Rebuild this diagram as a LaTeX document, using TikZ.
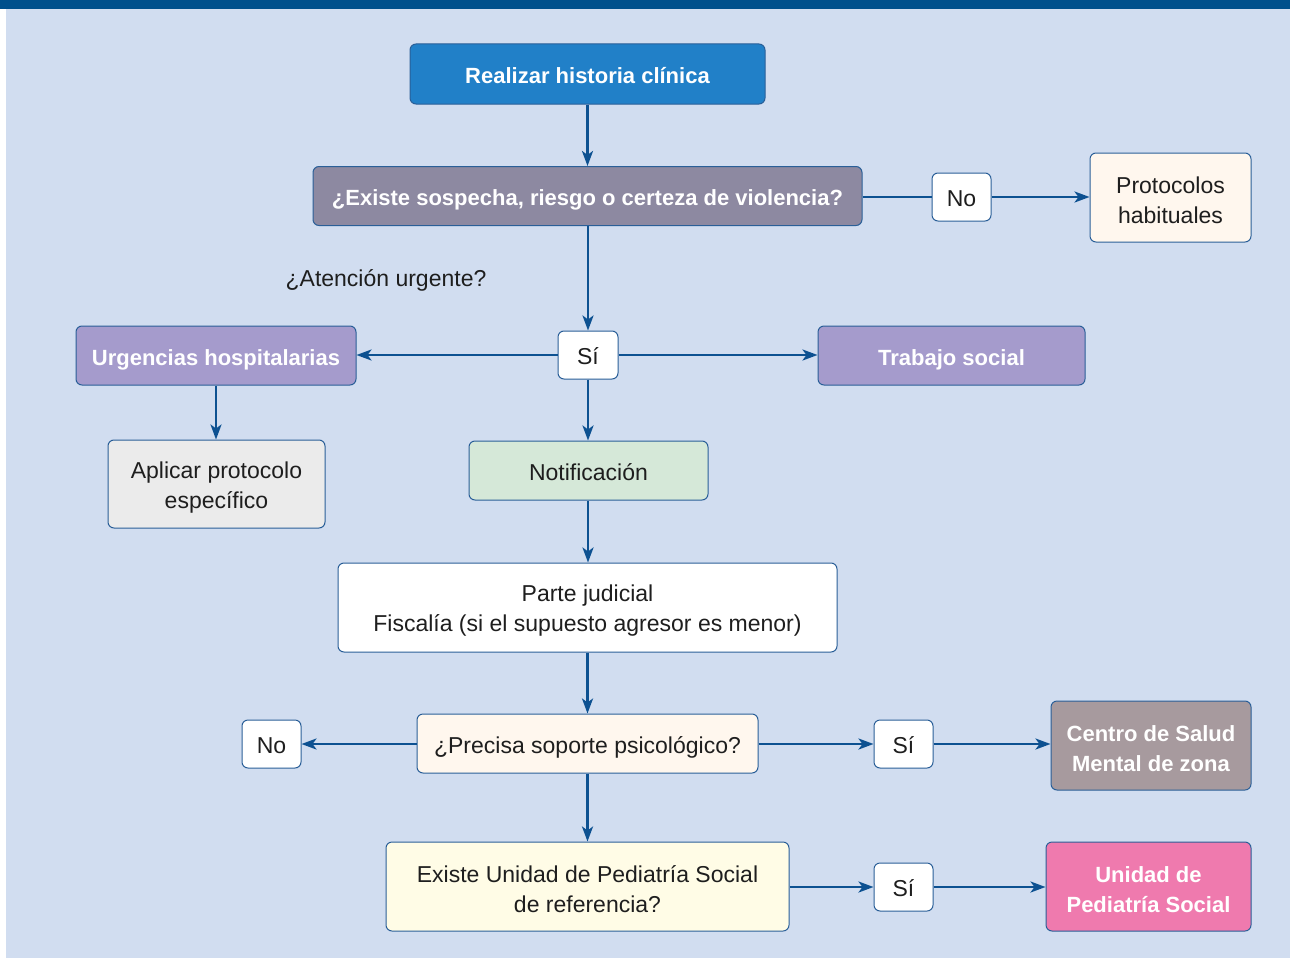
\documentclass[tikz,border=0pt]{standalone}
\usepackage{fontspec}
\setmainfont{Liberation Sans}
\usetikzlibrary{arrows.meta}
\definecolor{bar}{HTML}{00508C}
\definecolor{bg}{HTML}{D1DDF0}
\definecolor{edge}{HTML}{2A5F98}
\definecolor{arrowc}{HTML}{0D5191}
\definecolor{txt}{HTML}{1E1E1E}
\definecolor{fblue}{HTML}{2180C8}
\definecolor{fgray}{HTML}{8D89A1}
\definecolor{flav}{HTML}{A59BCC}
\definecolor{fcream}{HTML}{FFF7EE}
\definecolor{flgray}{HTML}{EBEBEB}
\definecolor{fgreen}{HTML}{D5E8D8}
\definecolor{fmauve}{HTML}{A79A9E}
\definecolor{fyellow}{HTML}{FFFCE6}
\definecolor{fpink}{HTML}{EF7AAE}
\begin{document}
\begin{tikzpicture}[x=1pt,y=-1pt,
  box/.style={draw=edge, line width=1pt, rounded corners=6pt, inner sep=0pt,
    align=center, text=txt, font=\fontsize{23}{30}\selectfont},
  one/.style={execute at begin node={\rule[-8pt]{0pt}{35pt}},
    execute at end node={\rule[-8pt]{0pt}{8pt}}},
  two/.style={execute at begin node={\rule{0pt}{53pt}}},
  boldbox/.style={box, text=white, font=\fontsize{22}{30}\selectfont\bfseries},
  smallbox/.style={box, one, fill=white, minimum width=59pt, minimum height=48pt},
  arr/.style={draw=arrowc, line width=2.5pt, -{Stealth[length=15pt,width=11pt,inset=4pt]}},
  plain/.style={draw=arrowc, line width=2.5pt}]
\useasboundingbox (0,0) rectangle (1290,958);
\fill[white] (0,0) rectangle (1290,958);
\fill[bg] (6,9) rectangle (1290,958);
\fill[bar] (0,0) rectangle (1290,9);

\node[boldbox, one, fill=fblue, minimum width=355pt, minimum height=60pt] (real) at (587.5,74) {Realizar historia clínica};
\node[boldbox, one, fill=fgray, minimum width=549pt, minimum height=59pt] (exist) at (587.5,196) {¿Existe sospecha, riesgo o certeza de violencia?};
\node[smallbox] (no1) at (961.5,197) {No};
\node[box, two, fill=fcream, minimum width=161pt, minimum height=89pt] (prot) at (1170.5,197.5) {Protocolos\\habituales};
\node[text=txt, font=\fontsize{23}{30}\selectfont, inner sep=0pt, anchor=base] (aten) at (386,286) {¿Atención urgente?};
\node[smallbox, minimum width=60pt] (si1) at (588,355) {Sí};
\node[boldbox, one, fill=flav, minimum width=280pt, minimum height=59pt] (urg) at (216,355.5) {Urgencias hospitalarias};
\node[boldbox, one, fill=flav, minimum width=267pt, minimum height=59pt] (trab) at (951.5,355.5) {Trabajo social};
\node[box, two, fill=flgray, minimum width=217pt, minimum height=88pt] (apl) at (216.5,484) {Aplicar protocolo\\específico};
\node[box, one, fill=fgreen, minimum width=239pt, minimum height=59pt] (notif) at (588.5,470.5) {Notificación};
\node[box, two, fill=white, minimum width=499pt, minimum height=89pt] (parte) at (587.5,607.5) {Parte judicial\\Fiscalía (si el supuesto agresor es menor)};
\node[box, one, fill=fcream, minimum width=341pt, minimum height=59pt] (prec) at (587.5,743.5) {¿Precisa soporte psicológico?};
\node[smallbox] (no2) at (271.5,744) {No};
\node[smallbox] (si2) at (903.5,744) {Sí};
\node[boldbox, two, fill=fmauve, minimum width=200pt, minimum height=89pt] (centro) at (1151,745.5) {Centro de Salud\\Mental de zona};
\node[box, two, fill=fyellow, minimum width=403pt, minimum height=89pt] (exu) at (587.5,886.5) {Existe Unidad de Pediatría Social\\de referencia?};
\node[smallbox] (si3) at (903.5,887) {Sí};
\node[boldbox, two, fill=fpink, minimum width=205pt, minimum height=89pt] (unid) at (1148.5,886.5) {Unidad de\\Pediatría Social};

\draw[arr] (real.south) -- (exist.north);
\draw[plain] (exist.east |- no1) -- (no1.west);
\draw[arr] (no1.east) -- (prot.west |- no1);
\draw[arr] (exist.south -| si1) -- (si1.north);
\draw[arr] (si1.west) -- (urg.east |- si1);
\draw[arr] (si1.east) -- (trab.west |- si1);
\draw[arr] (si1.south) -- (si1.south |- notif.north);
\draw[arr] (urg.south) -- (urg.south |- apl.north);
\draw[arr] (notif.south -| si1) -- (parte.north -| si1);
\draw[arr] (parte.south) -- (prec.north);
\draw[arr] (prec.west |- no2) -- (no2.east);
\draw[arr] (prec.east |- si2) -- (si2.west);
\draw[arr] (si2.east) -- (centro.west |- si2);
\draw[arr] (prec.south) -- (exu.north);
\draw[arr] (exu.east |- si3) -- (si3.west);
\draw[arr] (si3.east) -- (unid.west |- si3);
\end{tikzpicture}
\end{document}
